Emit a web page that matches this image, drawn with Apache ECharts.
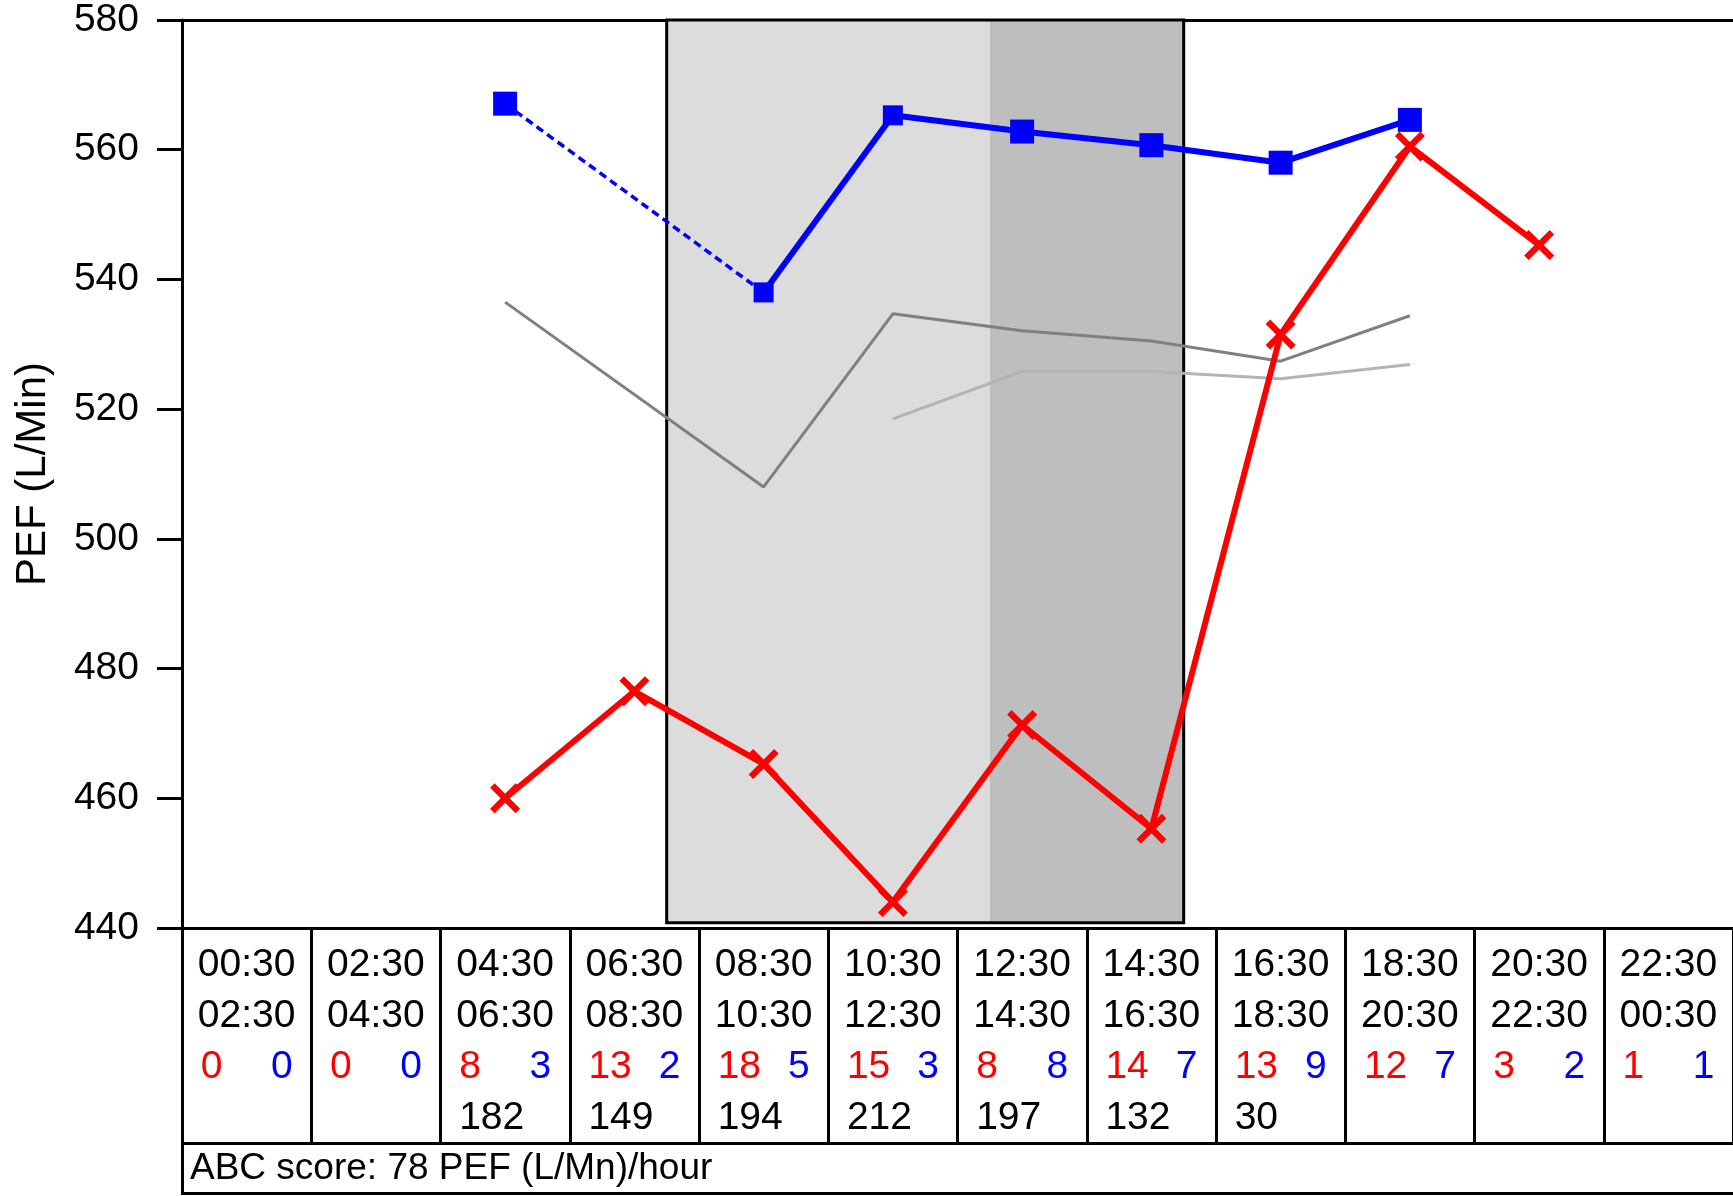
<!DOCTYPE html>
<html>
<head>
<meta charset="utf-8">
<script src="https://cdn.jsdelivr.net/npm/echarts@6/dist/echarts.min.js"></script>
<style>
html,body{margin:0;padding:0;background:#fff;}
#chart{width:1733px;height:1196px;}
</style>
</head>
<body>
<div id="chart"></div>
<script>
// ---- data ----
const slotStart = ['00:30','02:30','04:30','06:30','08:30','10:30','12:30','14:30','16:30','18:30','20:30','22:30'];
const slotEnd   = ['02:30','04:30','06:30','08:30','10:30','12:30','14:30','16:30','18:30','20:30','22:30','00:30'];
const redCounts  = [0,0,8,13,18,15,8,14,13,12,3,1];
const blueCounts = [0,0,3,2,5,3,8,7,9,7,2,1];
const slotTotals = [null,null,182,149,194,212,197,132,30,null,null,null];
const blueValues = [null,null,567.1,null,538.0,565.3,562.8,560.7,558.0,564.6,null,null];
const redValues  = [null,null,460.0,476.5,465.3,444.0,471.3,455.3,531.5,560.5,545.3,null];
const grayValues = [null,null,536.5,null,508.0,534.7,532.1,530.5,527.4,534.4,null,null];
const lightGrayValues = [null,null,null,null,null,518.5,525.8,525.8,524.7,526.9,null,null];
const yTicks = {min:440, max:580, step:20};
const shade = {start:8, darkStart:13, end:16};   // hours of day
const scoreText = 'ABC score: 78 PEF (L/Mn)/hour';
const yTitle = 'PEF (L/Min)';

// ---- style ----
const FONT = '"Liberation Sans Narrow","Arial Narrow","Liberation Sans",Arial,sans-serif';
const FS = 39;
const LH = 51;
const smallBlueIdx = [4,5];
const crossPath = 'path://M0,3 L3,0 L10,7 L17,0 L20,3 L13,10 L20,17 L17,20 L10,13 L3,20 L0,17 L7,10 Z';

const chart = echarts.init(document.getElementById('chart'), null, {renderer:'canvas'});

const rich = {
  r:{color:'#ff0000', align:'left', fontSize:FS, fontFamily:FONT, lineHeight:LH},
  b:{color:'#0000ff', align:'right', fontSize:FS, fontFamily:FONT, lineHeight:LH},
  k:{color:'#000', align:'left', fontSize:FS, fontFamily:FONT, lineHeight:LH},
  t:{color:'#000', align:'center', fontSize:FS, fontFamily:FONT, lineHeight:LH}
};

const option = {
  animation:false,
  backgroundColor:'#fff',
  title:{
    text:scoreText,
    left:182, top:1143,
    padding:[6,1700,6,8],
    borderColor:'#000', borderWidth:3,
    textStyle:{fontFamily:FONT, fontSize:37, fontWeight:'normal', color:'#000', lineHeight:39}
  },
  grid:{left:182, right:-4, top:20, bottom:268, containLabel:false},
  xAxis:[
    {
      type:'category', data:slotStart, position:'bottom', boundaryGap:true,
      axisLine:{show:true, lineStyle:{color:'#000', width:3}},
      axisTick:{show:true, interval:0, length:215, inside:false, lineStyle:{color:'#000', width:3}},
      axisLabel:{
        interval:0, margin:12, color:'#000', fontSize:FS, fontFamily:FONT, lineHeight:LH,
        width:92, overflow:'none',
        verticalAlign:'top', align:'center', rich:rich,
        formatter:function(v, i){
          const tot = slotTotals[i] == null ? ' ' : String(slotTotals[i]);
          return '{t|' + slotStart[i] + '}\n{t|' + slotEnd[i] + '}\n{r|' + redCounts[i] + '}{b|' + blueCounts[i] + '}\n{k|' + tot + '}';
        }
      },
      splitLine:{show:false}
    },
    {
      type:'value', min:0.5, max:24.5, position:'top',
      axisLine:{show:true, onZero:false, lineStyle:{color:'#000', width:3}},
      axisTick:{show:false}, axisLabel:{show:false}, splitLine:{show:false}
    }
  ],
  yAxis:{
    type:'value', min:yTicks.min, max:yTicks.max, interval:yTicks.step,
    name:yTitle, nameLocation:'middle', nameGap:128, nameRotate:90,
    nameTextStyle:{fontFamily:'"Liberation Sans",Arial,sans-serif', fontSize:42, color:'#000'},
    axisLine:{show:true, lineStyle:{color:'#000', width:3}},
    axisTick:{show:true, length:25, inside:false, lineStyle:{color:'#000', width:3}},
    axisLabel:{margin:43, color:'#000', fontSize:FS, fontFamily:FONT},
    splitLine:{show:false}
  },
  series:[
    {
      name:'shade', type:'line', xAxisIndex:1, yAxisIndex:0, data:[], z:1, silent:true,
      markArea:{
        silent:true,
        data:[
          [{xAxis:shade.start, yAxis:yTicks.max, itemStyle:{color:'#dcdcdc'}}, {xAxis:shade.darkStart, yAxis:440.8}],
          [{xAxis:shade.darkStart, yAxis:yTicks.max, itemStyle:{color:'#bebebe'}}, {xAxis:shade.end, yAxis:440.8}],
          [{xAxis:shade.start, yAxis:yTicks.max, itemStyle:{color:'rgba(0,0,0,0)', borderColor:'#000', borderWidth:3}}, {xAxis:shade.end, yAxis:440.8}]
        ]
      }
    },
    {
      name:'gray', type:'line', data:grayValues, connectNulls:true, symbol:'none', z:2,
      lineStyle:{color:'#808080', width:3}
    },
    {
      name:'lightgray', type:'line', data:lightGrayValues, connectNulls:true, symbol:'none', z:2,
      lineStyle:{color:'#b4b4b4', width:3}
    },
    {
      name:'blueBridge', type:'line', data:blueValues, connectNulls:true, symbol:'none', z:3,
      lineStyle:{color:'#0000ff', width:3.5, type:[8,5]}
    },
    {
      name:'blue', type:'line', data:blueValues, connectNulls:false, z:4,
      symbol:'rect', showAllSymbol:true,
      symbolSize:function(v, p){ return smallBlueIdx.indexOf(p.dataIndex) >= 0 ? 20 : 24; },
      itemStyle:{color:'#0000ff'},
      lineStyle:{color:'#0000ff', width:6}
    },
    {
      name:'red', type:'line', data:redValues, connectNulls:false, z:5,
      symbol:crossPath, symbolSize:30, showAllSymbol:true,
      itemStyle:{color:'#ff0000'},
      lineStyle:{color:'#ff0000', width:6}
    }
  ]
};
chart.setOption(option);
</script>
</body>
</html>
